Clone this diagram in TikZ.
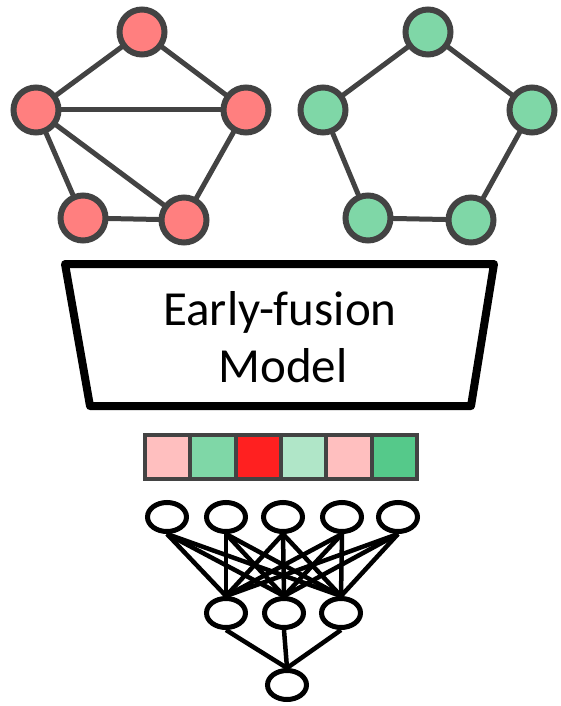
\documentclass[tikz,border=0pt]{standalone}
\usepackage{fontspec}
\setmainfont{Carlito}
\usetikzlibrary{shapes.geometric}
\pgfdeclarelayer{edges}
\pgfsetlayers{edges,main}
\definecolor{graphgray}{HTML}{434343}
\definecolor{nodered}{HTML}{FF7F7F}
\definecolor{nodegreen}{HTML}{7FD7A7}
\definecolor{cellpink}{HTML}{FFBFBF}
\definecolor{cellgreen}{HTML}{7FD7A7}
\definecolor{cellred}{HTML}{FF2020}
\definecolor{cellmint}{HTML}{B0E6C8}
\definecolor{celldeep}{HTML}{55C98A}
\tikzset{
  gnode/.style={circle, draw=graphgray, line width=6pt, minimum size=45pt, inner sep=0pt},
  rednode/.style={gnode, fill=nodered},
  greennode/.style={gnode, fill=nodegreen},
  gedge/.style={draw=graphgray, line width=5pt},
  modelbox/.style={draw=black, line width=8pt, line join=round, fill=white},
  modeltext/.style={anchor=base, font=\fontsize{49}{58}\selectfont, inner sep=0pt},
  cell/.style={draw=graphgray, line width=4pt, minimum width=45.33pt, minimum height=44pt, inner sep=0pt},
  neuron/.style={ellipse, draw=black, line width=5pt, minimum width=39pt, minimum height=29pt, inner sep=0pt, fill=white},
  wire/.style={draw=black, line width=4.5pt}
}
\begin{document}
\begin{tikzpicture}[x=1pt,y=-1pt]
\useasboundingbox (0,0) rectangle (560,706);

% left graph
\node[rednode] (r1) at (142,32) {};
\node[rednode] (r2) at (36,110) {};
\node[rednode] (r3) at (246,110) {};
\node[rednode] (r4) at (83,218) {};
\node[rednode] (r5) at (184,220) {};

% right graph
\node[greennode] (g1) at (428,32) {};
\node[greennode] (g2) at (323,110) {};
\node[greennode] (g3) at (532,110) {};
\node[greennode] (g4) at (368,218) {};
\node[greennode] (g5) at (471,220) {};

\begin{pgfonlayer}{edges}
\foreach \a/\b in {r1/r2, r1/r3, r2/r3, r2/r4, r2/r5, r4/r5, r3/r5,
                   g1/g2, g1/g3, g2/g4, g4/g5, g3/g5}
  \draw[gedge] (\a.center) -- (\b.center);
\end{pgfonlayer}

% model block
\draw[modelbox] (65,264) coordinate (m1) -- (494,264) coordinate (m2)
  -- (471,406) coordinate (m3) -- (90,406) coordinate (m4) -- cycle;
\node[modeltext] (t1) at (280,325) {Early-fusion};
\node[modeltext] (t2) at (283,382) {Model};

% embedding vector
\node[cell, fill=cellpink]  (c1) at (167.67,457) {};
\node[cell, fill=cellgreen] (c2) at (213.00,457) {};
\node[cell, fill=cellred]   (c3) at (258.33,457) {};
\node[cell, fill=cellmint]  (c4) at (303.67,457) {};
\node[cell, fill=cellpink]  (c5) at (349.00,457) {};
\node[cell, fill=celldeep]  (c6) at (394.33,457) {};

% classifier network
\node[neuron] (i1) at (167,517) {};
\node[neuron] (i2) at (226,517) {};
\node[neuron] (i3) at (283,517) {};
\node[neuron] (i4) at (342,517) {};
\node[neuron] (i5) at (398,517) {};
\node[neuron] (h1) at (226,613) {};
\node[neuron] (h2) at (284,613) {};
\node[neuron] (h3) at (341,613) {};
\node[neuron] (o1) at (287,685) {};

\begin{pgfonlayer}{edges}
\foreach \i in {i1,i2,i3,i4,i5}
  \foreach \h in {h1,h2,h3}
    \draw[wire] (\i.south) -- (\h.north);
\foreach \h in {h1,h2,h3}
  \draw[wire] (\h.south) -- (o1.north);
\end{pgfonlayer}
\end{tikzpicture}
\end{document}
